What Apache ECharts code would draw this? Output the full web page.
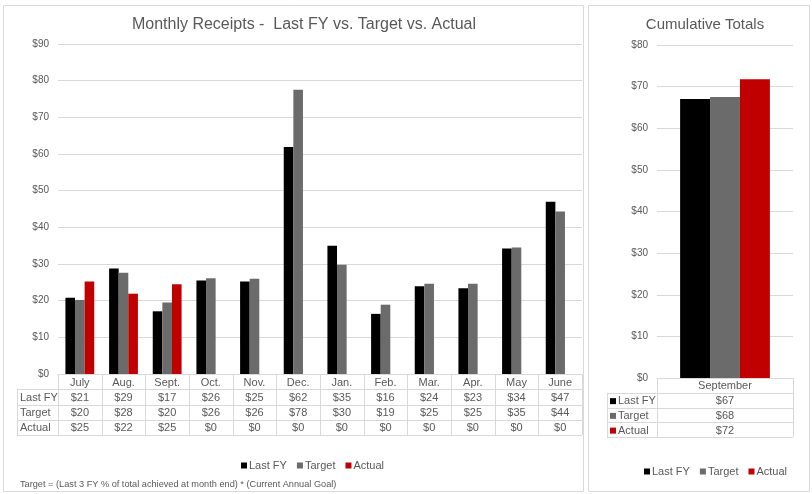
<!DOCTYPE html>
<html>
<head>
<meta charset="utf-8">
<script src="https://cdn.jsdelivr.net/npm/echarts@6/dist/echarts.min.js"></script>
<style>
    html, body { margin: 0; padding: 0; background: #fff; }
    #chart { width: 812px; height: 494px; }
</style>
</head>
<body>
<div id="chart"></div>
<script>
    // data
    const months = ['July', 'Aug.', 'Sept.', 'Oct.', 'Nov.', 'Dec.', 'Jan.', 'Feb.', 'Mar.', 'Apr.', 'May', 'June'];
    const lastFY = [20.8, 28.8, 17.1, 25.5, 25.2, 61.9, 35.0, 16.4, 23.9, 23.4, 34.2, 47.0];
    const target = [20.2, 27.6, 19.5, 26.1, 26.0, 77.5, 29.8, 18.9, 24.6, 24.6, 34.5, 44.3];
    const actual = [25.2, 21.9, 24.5, 0, 0, 0, 0, 0, 0, 0, 0, 0];
    const cumCategory = ['September'];
    const cumLastFY = [67.0];
    const cumTarget = [67.5];
    const cumActual = [71.8];
    const seriesNames = ['Last FY', 'Target', 'Actual'];
    const colors = ['#000000', '#6b6b6b', '#c00000'];

    const textColor = '#595959';
    const lineColor = '#d9d9d9';
    const font = '"Liberation Sans", Arial, sans-serif';

    // plot areas (pixels)
    const L = { x0: 58, x1: 582, top: 44, bottom: 374, labelX: 17, rowH: 15.25 };
    const R = { x0: 657, x1: 793, top: 45, bottom: 378, labelX: 607, rowH: 14.75 };

    function hline(x1, y, x2) {
        return { type: 'line', silent: true, shape: { x1: x1, y1: y, x2: x2, y2: y }, style: { stroke: lineColor, lineWidth: 1 } };
    }
    function vline(x, y1, y2) {
        return { type: 'line', silent: true, shape: { x1: x, y1: y1, x2: x, y2: y2 }, style: { stroke: lineColor, lineWidth: 1 } };
    }
    function label(x, y, s, align, size) {
        return {
            type: 'text', silent: true, x: x, y: y,
            style: { text: s, fill: textColor, font: (size || 11) + 'px ' + font, align: align, verticalAlign: 'middle' }
        };
    }

    // data table under a category axis
    function table(g, cats, rows, keys) {
        const els = [];
        const n = cats.length, cw = (g.x1 - g.x0) / n;
        const yTop = g.bottom, yEnd = yTop + g.rowH * (rows.length + 1);
        for (let r = 1; r <= rows.length + 1; r++) {
            els.push(hline(g.labelX, Math.round(yTop + g.rowH * r) + 0.5, g.x1));
        }
        for (let i = 0; i <= n; i++) {
            els.push(vline(Math.round(g.x0 + cw * i) + 0.5, yTop, yEnd));
        }
        els.push(vline(g.labelX + 0.5, yTop + g.rowH, yEnd));
        cats.forEach((c, i) => els.push(label(g.x0 + cw * (i + 0.5), yTop + g.rowH / 2 + 1, c, 'center')));
        rows.forEach((row, r) => {
            const yc = yTop + g.rowH * (r + 1.5) + 1;
            let tx = g.labelX + 3;
            if (keys) {
                els.push({ type: 'rect', silent: true, shape: { x: tx, y: yc - 3, width: 6, height: 6 }, style: { fill: colors[r] } });
                tx += 8;
            }
            els.push(label(tx, yc, row.name, 'left'));
            row.values.forEach((v, i) => els.push(label(g.x0 + cw * (i + 0.5), yc, '$' + Math.round(v), 'center')));
        });
        return els;
    }

    const chart = echarts.init(document.getElementById('chart'));

    function barSeries(name, data, idx, axis) {
        return {
            name: name, type: 'bar', data: data,
            xAxisIndex: axis, yAxisIndex: axis,
            barGap: '0%', barCategoryGap: '34%',
            itemStyle: { color: colors[idx] },
            emphasis: { disabled: true }
        };
    }

    const yLabel = { color: textColor, fontSize: 10, fontFamily: font, margin: 9, formatter: v => '$' + v };

    chart.setOption({
        animation: false,
        textStyle: { fontFamily: font },
        title: [
            {
                text: 'Monthly Receipts -  Last FY vs. Target vs. Actual',
                left: 299, top: 12, textAlign: 'center',
                textStyle: { color: textColor, fontSize: 16, fontWeight: 'normal' }
            },
            {
                text: 'Cumulative Totals',
                left: 700, top: 12, textAlign: 'center',
                textStyle: { color: textColor, fontSize: 15, fontWeight: 'normal' }
            }
        ],
        legend: [
            {
                data: seriesNames, left: 236, top: 455,
                icon: 'rect', itemWidth: 6, itemHeight: 6, itemGap: 10,
                selectedMode: false,
                textStyle: { color: textColor, fontSize: 11, padding: [0, 0, 0, -3] }
            },
            {
                data: seriesNames, left: 639, top: 461,
                icon: 'rect', itemWidth: 6, itemHeight: 6, itemGap: 10,
                selectedMode: false,
                textStyle: { color: textColor, fontSize: 11, padding: [0, 0, 0, -3] }
            }
        ],
        grid: [
            { left: L.x0, right: 812 - L.x1, top: L.top, bottom: 494 - L.bottom },
            { left: R.x0, right: 812 - R.x1, top: R.top, bottom: 494 - R.bottom }
        ],
        xAxis: [
            {
                type: 'category', data: months, gridIndex: 0,
                axisLine: { lineStyle: { color: lineColor } }, axisTick: { show: false }, axisLabel: { show: false }
            },
            {
                type: 'category', data: cumCategory, gridIndex: 1,
                axisLine: { lineStyle: { color: lineColor } }, axisTick: { show: false }, axisLabel: { show: false }
            }
        ],
        yAxis: [
            {
                type: 'value', gridIndex: 0, min: 0, max: 90, interval: 10,
                axisLabel: yLabel, splitLine: { lineStyle: { color: lineColor } }
            },
            {
                type: 'value', gridIndex: 1, min: 0, max: 80, interval: 10,
                axisLabel: yLabel, splitLine: { lineStyle: { color: lineColor } }
            }
        ],
        series: [
            barSeries(seriesNames[0], lastFY, 0, 0),
            barSeries(seriesNames[1], target, 1, 0),
            barSeries(seriesNames[2], actual, 2, 0),
            barSeries(seriesNames[0], cumLastFY, 0, 1),
            barSeries(seriesNames[1], cumTarget, 1, 1),
            barSeries(seriesNames[2], cumActual, 2, 1)
        ],
        graphic: [
            { type: 'rect', silent: true, shape: { x: 3.5, y: 5.5, width: 580, height: 486 }, style: { fill: null, stroke: lineColor } },
            { type: 'rect', silent: true, shape: { x: 588.5, y: 5.5, width: 221, height: 486 }, style: { fill: null, stroke: lineColor } },
            ...table(L, months, [
                { name: seriesNames[0], values: lastFY },
                { name: seriesNames[1], values: target },
                { name: seriesNames[2], values: actual }
            ], false),
            ...table(R, cumCategory, [
                { name: seriesNames[0], values: cumLastFY },
                { name: seriesNames[1], values: cumTarget },
                { name: seriesNames[2], values: cumActual }
            ], true),
            label(20, 484, 'Target = (Last 3 FY % of total achieved at month end) * (Current Annual Goal)', 'left', 9.2)
        ]
    });
</script>
</body>
</html>
